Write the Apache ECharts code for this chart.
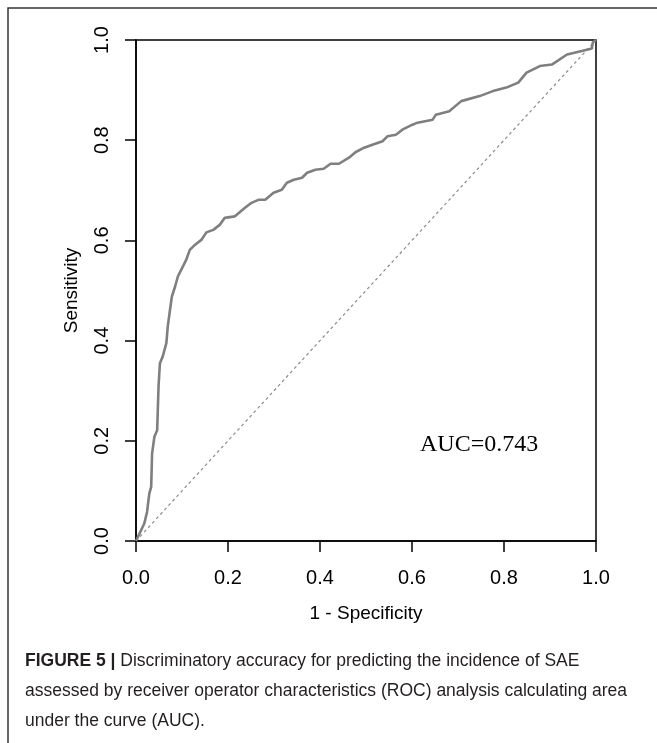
<!DOCTYPE html>
<html>
<head>
<meta charset="utf-8">
<script src="https://cdn.jsdelivr.net/npm/echarts@6/dist/echarts.min.js"></script>
<style>
  html, body { margin: 0; padding: 0; background: #fff; }
  #chart { width: 657px; height: 743px; }
</style>
</head>
<body>
<div id="chart"></div>
<script>
// ROC curve: 1 - specificity vs sensitivity
const fpr = [0, 0.018, 0.024, 0.029, 0.033, 0.035, 0.040, 0.046, 0.049, 0.052,
  0.058, 0.066, 0.069, 0.073, 0.078, 0.085, 0.091, 0.102, 0.109, 0.117,
  0.128, 0.142, 0.153, 0.168, 0.182, 0.193, 0.215, 0.237, 0.251, 0.266,
  0.281, 0.299, 0.317, 0.328, 0.343, 0.361, 0.372, 0.390, 0.408, 0.423,
  0.441, 0.463, 0.477, 0.496, 0.514, 0.536, 0.547, 0.565, 0.579, 0.601,
  0.612, 0.645, 0.652, 0.681, 0.707, 0.747, 0.776, 0.805, 0.831, 0.849,
  0.878, 0.904, 0.937, 0.969, 0.991, 0.993, 1]
const tpr = [0, 0.035, 0.058, 0.095, 0.108, 0.175, 0.208, 0.221, 0.308, 0.355,
  0.368, 0.395, 0.428, 0.455, 0.488, 0.508, 0.528, 0.548, 0.561, 0.581,
  0.591, 0.601, 0.616, 0.621, 0.631, 0.645, 0.648, 0.665, 0.675, 0.681,
  0.681, 0.695, 0.701, 0.715, 0.721, 0.725, 0.735, 0.741, 0.743, 0.753,
  0.753, 0.765, 0.776, 0.785, 0.791, 0.798, 0.808, 0.811, 0.821, 0.831,
  0.835, 0.841, 0.851, 0.858, 0.878, 0.888, 0.898, 0.905, 0.915, 0.935,
  0.948, 0.951, 0.971, 0.978, 0.983, 0.995, 1]
// chance line
const refX = [0, 1]
const refY = [0, 1]

const aucText = 'AUC=0.743'
const captionLines = [
  ['FIGURE 5 |', ' Discriminatory accuracy for predicting the incidence of SAE'],
  ['', 'assessed by receiver operator characteristics (ROC) analysis calculating area'],
  ['', 'under the curve (AUC).']
]

const sans = '"Liberation Sans", Arial, sans-serif'

const chart = echarts.init(document.getElementById('chart'))

const captionText = captionLines
  .map(l => (l[0] ? '{b|' + l[0] + '}' : '') + '{n|' + l[1] + '}')
  .join('\n')

const axisCommon = {
  type: 'value',
  min: 0,
  max: 1,
  interval: 0.2,
  splitLine: { show: false },
  axisLine: { show: true, lineStyle: { color: '#000', width: 1.5 } },
  axisTick: { show: true, inside: false, length: 11, lineStyle: { color: '#000', width: 1.5 } },
  nameLocation: 'middle'
}

chart.setOption({
  animation: false,
  backgroundColor: '#fff',
  grid: {
    left: 136, right: 61, top: 40, bottom: 202,
    show: true, borderColor: '#000', borderWidth: 1.5
  },
  xAxis: Object.assign({}, axisCommon, {
    name: '1 - Specificity',
    nameGap: 63,
    nameTextStyle: { fontFamily: sans, fontSize: 19, color: '#000' },
    axisLabel: {
      margin: 27, fontFamily: sans, fontSize: 20, color: '#000',
      formatter: v => v.toFixed(1)
    }
  }),
  yAxis: Object.assign({}, axisCommon, {
    name: 'Sensitivity',
    nameGap: 55,
    nameRotate: 90,
    nameTextStyle: { fontFamily: sans, fontSize: 19, color: '#000' },
    axisLabel: {
      margin: 24, rotate: 90, fontFamily: sans, fontSize: 20, color: '#000',
      formatter: v => v.toFixed(1)
    }
  }),
  series: [
    {
      type: 'line',
      data: refX.map((x, i) => [x, refY[i]]),
      symbol: 'none',
      lineStyle: { color: '#8c8c8c', width: 1.2, type: [3, 3] },
      z: 1
    },
    {
      type: 'line',
      data: fpr.map((x, i) => [x, tpr[i]]),
      symbol: 'none',
      lineStyle: { color: '#7f7f7f', width: 2.6 },
      z: 2
    }
  ],
  graphic: [
    {
      type: 'polyline',
      shape: { points: [[8, 743], [8, 8], [657, 8]] },
      style: { stroke: '#333', lineWidth: 1.5, fill: null }
    },
    {
      type: 'text',
      x: 420, y: 445,
      style: {
        text: aucText, fontFamily: '"Liberation Serif", "Times New Roman", serif',
        fontSize: 24, fill: '#000', verticalAlign: 'middle'
      }
    },
    {
      type: 'text',
      x: 25, y: 646,
      style: {
        text: captionText,
        lineHeight: 30,
        fill: '#231f20',
        rich: {
          b: { fontFamily: sans, fontWeight: 'bold', fontSize: 17.5, lineHeight: 30, fill: '#231f20' },
          n: { fontFamily: sans, fontSize: 17.5, lineHeight: 30, fill: '#231f20' }
        }
      }
    }
  ]
})
</script>
</body>
</html>
